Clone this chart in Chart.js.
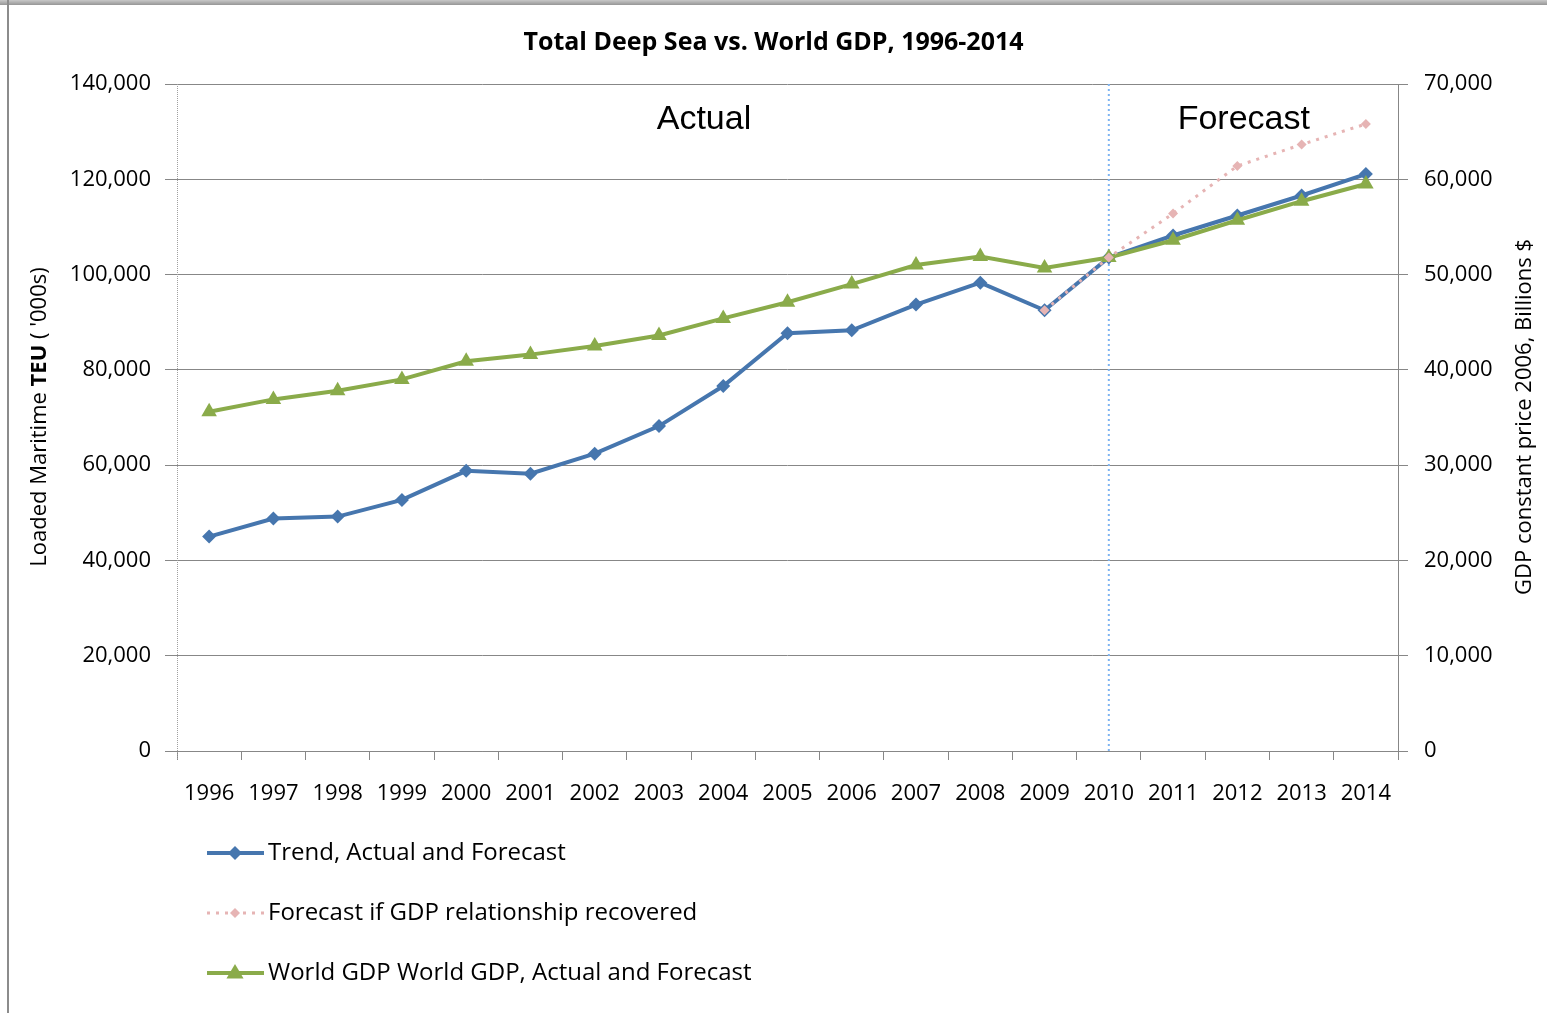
<!DOCTYPE html>
<html>
<head>
<meta charset="utf-8">
<script src="https://cdn.jsdelivr.net/npm/chart.js@4.4.0/dist/chart.umd.min.js"></script>
<style>
  html, body { margin: 0; padding: 0; background: #fff; }
  #wrap { width: 1547px; height: 1013px; position: relative; }
</style>
</head>
<body>
<div id="wrap"><canvas id="chart" width="1547" height="1013"></canvas></div>
<script>
// datos
const years = ['1996', '1997', '1998', '1999', '2000', '2001', '2002', '2003', '2004', '2005',
               '2006', '2007', '2008', '2009', '2010', '2011', '2012', '2013', '2014'];
const teuTrend = [45000, 48800, 49200, 52700, 58800, 58200, 62400, 68200, 76600, 87700,
                  88300, 93700, 98300, 92500, 103600, 108200, 112400, 116600, 121100];
const teuRecovered = [null, null, null, null, null, null, null, null, null, null,
                      null, null, null, 92500, 103600, 112800, 122800, 127300, 131600];
const worldGdp = [35600, 36900, 37800, 39000, 40900, 41600, 42500, 43600, 45400, 47100,
                  49000, 51000, 51900, 50700, 51800, 53600, 55700, 57700, 59500];
const leftTicks = [0, 20000, 40000, 60000, 80000, 100000, 120000, 140000];
const rightTicks = [0, 10000, 20000, 30000, 40000, 50000, 60000, 70000];

const FONT = "'Open Sans', 'DejaVu Sans', sans-serif";
const blue = '#4676ae';
const pink = '#e6b4b4';
const green = '#8aab4a';
const gridColor = '#878787';

function fmt(v) {
    return v.toLocaleString('en-US');
}

// marco gris de la imagen original
const framePlugin = {
    id: 'frame',
    beforeDraw(chart) {
        const c = chart.ctx;
        c.save();
        c.fillStyle = '#ffffff';
        c.fillRect(0, 0, chart.width, chart.height);
        const g = c.createLinearGradient(0, 0, 0, 6);
        g.addColorStop(0, '#c8c8c8');
        g.addColorStop(1, '#8c8c8c');
        c.fillStyle = g;
        c.fillRect(0, 0, chart.width, 5);
        c.fillStyle = '#8c8c8c';
        c.fillRect(7, 0, 2, chart.height);
        c.restore();
    }
};

// linea punteada 2010, eje izquierdo punteado y textos Actual / Forecast
const markersPlugin = {
    id: 'markers',
    beforeDatasetsDraw(chart) {
        const c = chart.ctx;
        const area = chart.chartArea;
        const x = chart.scales.x.getPixelForValue(years.indexOf('2010'));
        c.save();
        c.strokeStyle = '#7db4f2';
        c.lineWidth = 2;
        c.setLineDash([2, 3]);
        c.beginPath();
        c.moveTo(x, area.top);
        c.lineTo(x, area.bottom);
        c.stroke();
        c.strokeStyle = '#a0a0a0';
        c.lineWidth = 1;
        c.setLineDash([1, 1]);
        c.beginPath();
        c.moveTo(area.left + 0.5, area.top);
        c.lineTo(area.left + 0.5, area.bottom + 9);
        c.stroke();
        c.restore();
    },
    afterDraw(chart) {
        const c = chart.ctx;
        const xs = chart.scales.x;
        const ys = chart.scales.y;
        c.save();
        c.fillStyle = '#000';
        c.font = "34px 'Liberation Sans', Arial, sans-serif";
        c.textAlign = 'center';
        c.textBaseline = 'middle';
        c.fillText('Actual', xs.getPixelForValue(7.7), ys.getPixelForValue(132500));
        c.fillText('Forecast', xs.getPixelForValue(16.1), ys.getPixelForValue(132500));
        c.restore();
    }
};

// titulos de ejes (con TEU en negrita)
function drawRotated(c, parts, cx, cy, size) {
    c.save();
    c.translate(cx, cy);
    c.rotate(-Math.PI / 2);
    c.textBaseline = 'middle';
    c.fillStyle = '#000';
    let total = 0;
    parts.forEach(p => {
        c.font = (p.bold ? 'bold ' : '') + size + 'px ' + FONT;
        total += c.measureText(p.text).width;
    });
    let pos = -total / 2;
    c.textAlign = 'left';
    parts.forEach(p => {
        c.font = (p.bold ? 'bold ' : '') + size + 'px ' + FONT;
        c.fillText(p.text, pos, 0);
        pos += c.measureText(p.text).width;
    });
    c.restore();
}

const axisTitlesPlugin = {
    id: 'axisTitles',
    afterDraw(chart) {
        const c = chart.ctx;
        drawRotated(c, [
            { text: 'Loaded Maritime ', bold: false },
            { text: 'TEU', bold: true },
            { text: " ( '000s)", bold: false }
        ], 40, 417, 22);
        drawRotated(c, [{ text: 'GDP constant price 2006, Billions $', bold: false }], 1525, 417, 22);
    }
};

// leyenda vertical debajo del grafico
const legendPlugin = {
    id: 'bottomLegend',
    afterDraw(chart) {
        const c = chart.ctx;
        chart.data.datasets.forEach((ds, i) => {
            const y = 853 + i * 60;
            c.save();
            c.strokeStyle = ds.borderColor;
            c.lineWidth = ds.borderWidth;
            c.setLineDash(ds.borderDash || []);
            c.beginPath();
            c.moveTo(207, y);
            c.lineTo(264, y);
            c.stroke();
            c.setLineDash([]);
            c.fillStyle = ds.backgroundColor;
            const r = ds.pointRadius;
            c.beginPath();
            if (ds.pointStyle === 'triangle') {
                c.moveTo(235, y - r);
                c.lineTo(235 + r * 0.95, y + r * 0.6);
                c.lineTo(235 - r * 0.95, y + r * 0.6);
            } else {
                c.moveTo(235, y - r);
                c.lineTo(235 + r, y);
                c.lineTo(235, y + r);
                c.lineTo(235 - r, y);
            }
            c.closePath();
            c.fill();
            c.fillStyle = '#000';
            c.font = '24px ' + FONT;
            c.textAlign = 'left';
            c.textBaseline = 'middle';
            c.fillText(ds.label, 268, y);
            c.restore();
        });
    }
};

new Chart(document.getElementById('chart'), {
    type: 'line',
    data: {
        labels: years,
        datasets: [{
            label: 'Trend, Actual and Forecast',
            data: teuTrend,
            yAxisID: 'y',
            borderColor: blue,
            backgroundColor: blue,
            borderWidth: 4,
            pointStyle: 'rectRot',
            pointRadius: 7,
            pointBorderWidth: 0,
            tension: 0,
            order: 3
        }, {
            label: 'Forecast if GDP relationship recovered',
            data: teuRecovered,
            yAxisID: 'y',
            borderColor: pink,
            backgroundColor: pink,
            borderWidth: 3,
            borderDash: [3, 6],
            pointStyle: 'rectRot',
            pointRadius: 5,
            pointBorderWidth: 0,
            spanGaps: false,
            tension: 0,
            order: 1
        }, {
            label: 'World GDP World GDP, Actual and Forecast',
            data: worldGdp,
            yAxisID: 'y1',
            borderColor: green,
            backgroundColor: green,
            borderWidth: 4,
            pointStyle: 'triangle',
            pointRadius: 9,
            pointBorderWidth: 0,
            tension: 0,
            order: 2
        }]
    },
    options: {
        responsive: false,
        animation: false,
        layout: { padding: { left: 0, right: 0, top: 0, bottom: 202 } },
        plugins: {
            legend: { display: false },
            tooltip: { enabled: false },
            title: {
                display: true,
                text: 'Total Deep Sea vs. World GDP, 1996-2014',
                color: '#000',
                font: { family: FONT, size: 25, weight: 'bold' },
                padding: { top: 28, bottom: 26 }
            }
        },
        scales: {
            x: {
                type: 'category',
                offset: true,
                grid: {
                    offset: true,
                    drawOnChartArea: false,
                    color: gridColor,
                    tickLength: 9
                },
                border: { color: gridColor },
                ticks: {
                    color: '#000',
                    font: { family: FONT, size: 22 },
                    padding: 21,
                    maxRotation: 0,
                    autoSkip: false
                },
                afterFit(scale) { scale.height = 60; }
            },
            y: {
                position: 'left',
                min: 0,
                max: 140000,
                afterBuildTicks(scale) { scale.ticks = leftTicks.map(v => ({ value: v })); },
                grid: { color: gridColor, tickLength: 12 },
                border: { display: false },
                ticks: {
                    color: '#000',
                    font: { family: FONT, size: 22 },
                    padding: 14,
                    callback: v => fmt(v)
                },
                afterFit(scale) { scale.width = 177; }
            },
            y1: {
                position: 'right',
                min: 0,
                max: 70000,
                afterBuildTicks(scale) { scale.ticks = rightTicks.map(v => ({ value: v })); },
                grid: { drawOnChartArea: false, color: gridColor, tickLength: 10 },
                border: { color: gridColor },
                ticks: {
                    color: '#000',
                    font: { family: FONT, size: 22 },
                    padding: 16,
                    callback: v => fmt(v)
                },
                afterFit(scale) { scale.width = 149; }
            }
        }
    },
    plugins: [framePlugin, markersPlugin, axisTitlesPlugin, legendPlugin]
});
</script>
</body>
</html>
